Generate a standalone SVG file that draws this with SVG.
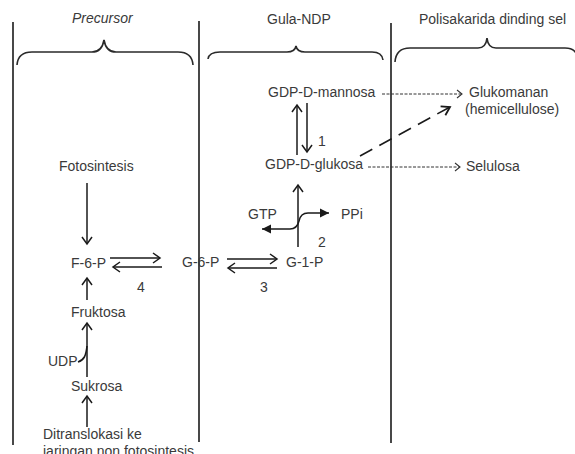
<svg xmlns="http://www.w3.org/2000/svg" width="575" height="454" viewBox="0 0 575 454">
<defs>
<style>
text{font-family:"Liberation Sans",Arial,sans-serif;font-size:14px;fill:#3a3a3a}
.it{font-style:italic}
.ln{stroke:#1a1a1a;stroke-width:1.6;fill:none}
.br{stroke:#2a2a2a;stroke-width:1.6;fill:none}
.ar{stroke:#1a1a1a;stroke-width:1.5;fill:none;marker-end:url(#open)}
.ds{stroke:#333;stroke-width:1;fill:none;stroke-dasharray:3 1.5;marker-end:url(#small)}
.ld{stroke:#1a1a1a;stroke-width:1.6;fill:none;stroke-dasharray:14 8;marker-end:url(#openb)}
</style>
<marker id="open" viewBox="-9 -7 11 14" markerWidth="11" markerHeight="14" refX="0" refY="0" orient="auto" markerUnits="userSpaceOnUse">
<path d="M-7,-5 L0,0 L-7,5" fill="none" stroke="#1a1a1a" stroke-width="1.5"/>
</marker>
<marker id="openb" viewBox="-10 -7 12 14" markerWidth="12" markerHeight="14" refX="0" refY="0" orient="auto" markerUnits="userSpaceOnUse">
<path d="M-8,-5 L0,0 L-8,5" fill="none" stroke="#1a1a1a" stroke-width="1.8"/>
</marker>
<marker id="small" viewBox="-7 -6 9 12" markerWidth="9" markerHeight="12" refX="0" refY="0" orient="auto" markerUnits="userSpaceOnUse">
<path d="M-5,-4 L0,0 L-5,4" fill="none" stroke="#333" stroke-width="1.1"/>
</marker>
<marker id="fill" viewBox="-10 -6 12 12" markerWidth="12" markerHeight="12" refX="0" refY="0" orient="auto-start-reverse" markerUnits="userSpaceOnUse">
<path d="M-9,-4.5 L0,0 L-9,4.5 Z" fill="#1a1a1a"/>
</marker>
</defs>

<g id="columns">
<line class="ln" x1="13" y1="22" x2="13" y2="445"/>
<line class="ln" x1="199" y1="21" x2="199" y2="442"/>
<line class="ln" x1="391" y1="23" x2="391" y2="443"/>
<path class="br" d="M17,65 Q18,52 32,52 L92,52 Q102,52 104,40 Q106,52 116,52 L178,52 Q192,52 193,65"/>
<path class="br" d="M208,59 Q209,52 220,52 L287,52 Q295,52 296,46 Q297,52 305,52 L372,52 Q382,52 383,60"/>
<path class="br" d="M395,62 Q396,48 410,48 L478,48 Q486,48 487,38 Q488,48 496,48 L565,48 Q576,48 578,58"/>
<text class="it" x="72" y="23">Precursor</text>
<text x="267" y="24">Gula-NDP</text>
<text x="419" y="24">Polisakarida dinding sel</text>
</g>

<g id="connectors">
<line class="ar" x1="87" y1="183" x2="87" y2="244"/>
<line class="ar" x1="87" y1="300" x2="87" y2="278"/>
<line class="ar" x1="87" y1="377" x2="87" y2="323"/>
<path class="ln" d="M78,362 C84,360 86,356 87,346" stroke-width="1.5"/>
<line class="ar" x1="87" y1="427" x2="87" y2="396"/>
<line class="ar" x1="110" y1="258" x2="160" y2="258"/>
<line class="ar" x1="162" y1="267" x2="113" y2="267"/>
<line class="ar" x1="227" y1="259" x2="277" y2="259"/>
<line class="ar" x1="277" y1="268" x2="228" y2="268"/>
<line class="ar" x1="298" y1="247" x2="298" y2="185"/>
<path d="M262,229 L290,229 C296,229 298,225 299,221 C300,216 302,213 308,213 L329,213" stroke="#1a1a1a" stroke-width="1.5" fill="none" marker-start="url(#fill)" marker-end="url(#fill)"/>
<line class="ar" x1="297" y1="155" x2="297" y2="105"/>
<line class="ar" x1="307" y1="103" x2="307" y2="152"/>
<line class="ds" x1="382" y1="94" x2="462" y2="94"/>
<line class="ds" x1="368" y1="167" x2="460" y2="167"/>
<line class="ld" x1="360" y1="156" x2="450" y2="107"/>
</g>

<g id="n-mannosa"><text x="268" y="97">GDP-D-mannosa</text></g>
<g id="n-glukosa"><text x="265" y="169">GDP-D-glukosa</text></g>
<g id="n-glukomanan"><text x="469" y="97">Glukomanan</text><text x="465" y="114">(hemicellulose)</text></g>
<g id="n-selulosa"><text x="466" y="171">Selulosa</text></g>
<g id="n-fotosintesis"><text x="59" y="171">Fotosintesis</text></g>
<g id="n-f6p"><text x="71" y="268">F-6-P</text></g>
<g id="n-g6p"><text x="182" y="267">G-6-P</text></g>
<g id="n-g1p"><text x="286" y="267">G-1-P</text></g>
<g id="n-gtp"><text x="248" y="219">GTP</text></g>
<g id="n-ppi"><text x="341" y="219">PPi</text></g>
<g id="labels">
<text x="318" y="146">1</text>
<text x="318" y="247">2</text>
<text x="260" y="292">3</text>
<text x="137" y="292">4</text>
</g>
<g id="n-fruktosa"><text x="71" y="317">Fruktosa</text></g>
<g id="n-udp"><text x="48" y="366">UDP</text></g>
<g id="n-sukrosa"><text x="71" y="391">Sukrosa</text></g>
<g id="n-ditranslokasi"><text x="43" y="439">Ditranslokasi ke</text><text x="43" y="456">jaringan non fotosintesis</text></g>
</svg>
